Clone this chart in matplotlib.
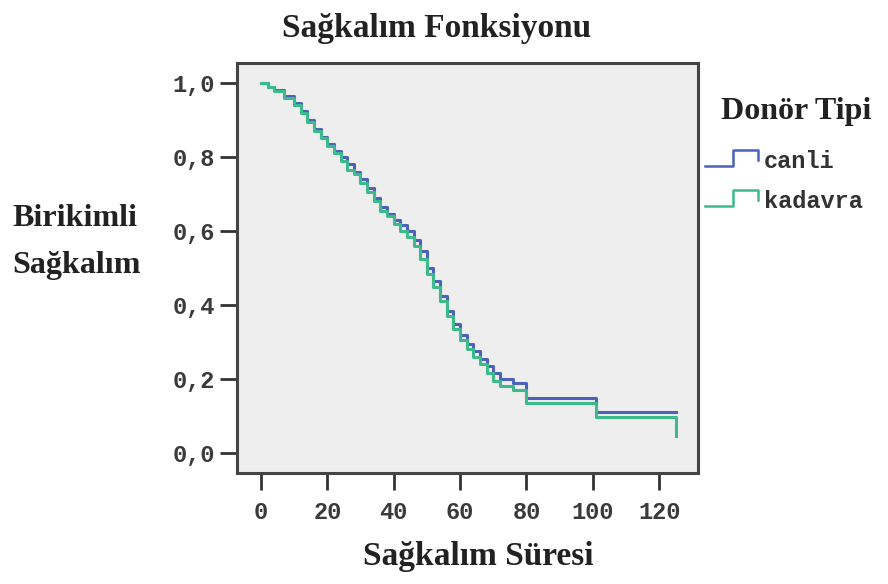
import matplotlib
matplotlib.use("Agg")
import matplotlib.pyplot as plt
from matplotlib.lines import Line2D

# survival times (months) and cumulative survival
canli_t = [0, 2, 4, 7, 10, 12, 14, 16, 18, 20, 22, 24, 26, 28, 30, 32, 34, 36, 38, 40,
           42, 44, 46, 48, 50, 52, 54, 56, 58, 60, 62, 64, 66, 68, 70, 72, 76, 80, 101, 125]
canli_s = [1.0, 0.99, 0.98, 0.965, 0.945, 0.925, 0.90, 0.875, 0.855, 0.835, 0.815, 0.80,
           0.78, 0.76, 0.74, 0.715, 0.69, 0.665, 0.645, 0.63, 0.615, 0.60, 0.575, 0.545,
           0.50, 0.465, 0.425, 0.385, 0.35, 0.32, 0.295, 0.275, 0.255, 0.235, 0.215, 0.20,
           0.19, 0.15, 0.11, 0.11]

kadavra_t = [0, 2, 4, 7, 10, 12, 14, 16, 18, 20, 22, 24, 26, 28, 30, 32, 34, 36, 38, 40,
             42, 44, 46, 48, 50, 52, 54, 56, 58, 60, 62, 64, 66, 68, 70, 72, 76, 80, 101, 125]
kadavra_s = [1.0, 0.99, 0.978, 0.96, 0.94, 0.92, 0.895, 0.87, 0.85, 0.83, 0.81, 0.79,
             0.765, 0.755, 0.73, 0.705, 0.68, 0.655, 0.64, 0.62, 0.60, 0.585, 0.56, 0.525,
             0.485, 0.45, 0.41, 0.37, 0.335, 0.305, 0.28, 0.26, 0.24, 0.215, 0.195, 0.18,
             0.17, 0.135, 0.097, 0.045]

groups = ["canli", "kadavra"]
colors = ["#4b63b8", "#3dba8c"]
xticks = [0, 20, 40, 60, 80, 100, 120]
yticks = [0.0, 0.2, 0.4, 0.6, 0.8, 1.0]

serif = "Liberation Serif"
mono = "Liberation Mono"

W, H = 888, 584
fig = plt.figure(figsize=(W / 100, H / 100), dpi=100)
ax = fig.add_axes([237 / W, 1 - 473 / H, 461 / W, 410 / H])
ax.set_facecolor("#eeeeee")

ax.plot(canli_t, canli_s, drawstyle="steps-post", color=colors[0], lw=2.2)
ax.plot(kadavra_t, kadavra_s, drawstyle="steps-post", color=colors[1], lw=2.2)

ax.set_xlim(-7.2, 131.7)
ax.set_ylim(-0.054, 1.054)
ax.set_xticks(xticks)
ax.set_xticklabels([str(v) for v in xticks], fontfamily=mono, fontsize=17, fontweight="bold")
ax.set_yticks(yticks)
ax.set_yticklabels([("%.1f" % v).replace(".", ",") for v in yticks], fontfamily=mono,
                   fontsize=17, fontweight="bold")
ax.tick_params(axis="both", length=12, width=2, color="#333333", labelcolor="#3a3a3a", pad=4,
               top=False, right=False)
ax.tick_params(axis="x", pad=8)
for sp in ax.spines.values():
    sp.set_linewidth(2.2)
    sp.set_color("#444444")

# titles
fig.text(437 / W, 1 - 29 / H, "Sağkalım Fonksiyonu", ha="center", va="center",
         fontfamily=serif, fontsize=24, fontweight="bold", color="#222222")
fig.text(478 / W, 1 - 557 / H, "Sağkalım Süresi", ha="center", va="center",
         fontfamily=serif, fontsize=24, fontweight="bold", color="#222222")
fig.text(12 / W, 1 - 242 / H, "Birikimli\nSağkalım", ha="left", va="center",
         fontfamily=serif, fontsize=23, fontweight="bold", color="#222222", linespacing=1.85)

# legend with step-shaped keys
fig.text(721 / W, 1 - 112 / H, "Donör Tipi", ha="left", va="center",
         fontfamily=serif, fontsize=23, fontweight="bold", color="#222222")


def step_key(y, color, label):
    xs = [705, 733, 733, 758, 758]
    ys = [y + 8, y + 8, y - 8, y - 8, y + 2]
    fig.add_artist(Line2D([v / W for v in xs], [1 - v / H for v in ys],
                          transform=fig.transFigure, color=color, lw=1.8))
    fig.text(764 / W, 1 - (y + 4) / H, label, ha="left", va="center",
             fontfamily=mono, fontsize=17, fontweight="bold", color="#333333")


step_key(158, colors[0], groups[0])
step_key(198, colors[1], groups[1])

fig.savefig("out.png", dpi=100)
